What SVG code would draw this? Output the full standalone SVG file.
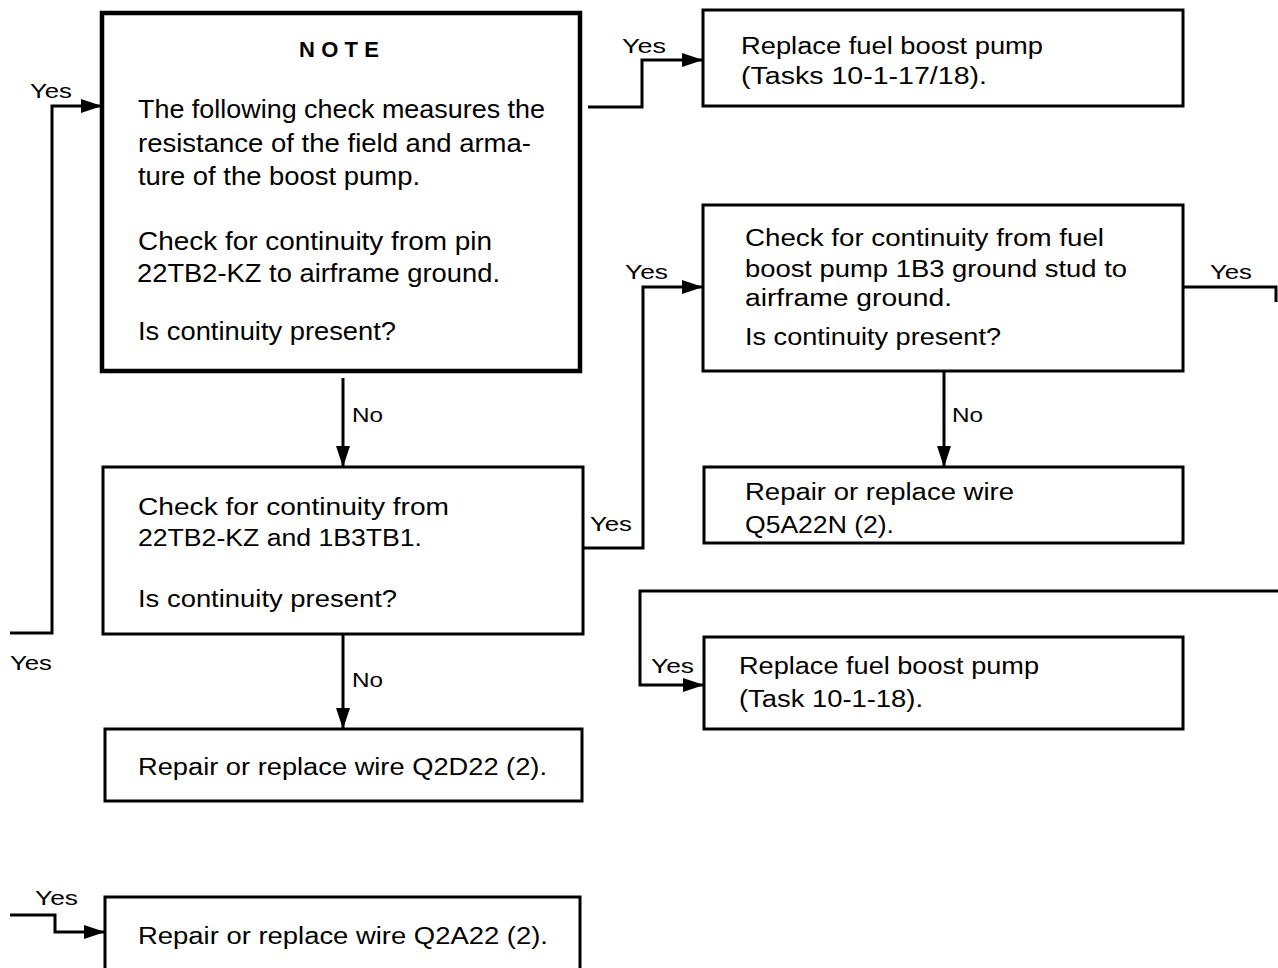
<svg xmlns="http://www.w3.org/2000/svg" width="1278" height="968" viewBox="0 0 1278 968">
<defs>
<marker id="ah" markerUnits="userSpaceOnUse" markerWidth="24" markerHeight="18" refX="21" refY="9" orient="auto">
<path d="M0,2 L21,9 L0,16 z" fill="#000"/>
</marker>
<style>
.box{fill:#fff;stroke:#000;stroke-width:3}
.note{fill:#fff;stroke:#000;stroke-width:4.5}
.t{font-family:"Liberation Sans",Arial,sans-serif;font-size:23px;fill:#000}
.n{font-family:"Liberation Sans",Arial,sans-serif;font-size:26px;fill:#000}
.lbl{font-family:"Liberation Sans",Arial,sans-serif;font-size:21px;fill:#000}
.c{fill:none;stroke:#000;stroke-width:3}
</style>
</defs>
<rect width="1278" height="968" fill="#fff"/>
<g id="connectors">
<path class="c" d="M10,633 H52 V106 H102" marker-end="url(#ah)"/>
<path class="c" d="M588,107 H642 V60 H703" marker-end="url(#ah)"/>
<path class="c" d="M343,378 V467" marker-end="url(#ah)"/>
<path class="c" d="M583,548 H643 V287 H703" marker-end="url(#ah)"/>
<path class="c" d="M343,635 V729" marker-end="url(#ah)"/>
<path class="c" d="M1183,287 H1276 V302"/>
<path class="c" d="M944,372 V467" marker-end="url(#ah)"/>
<path class="c" d="M1278,591 H640 V685 H704" marker-end="url(#ah)"/>
<path class="c" d="M10,915 H55 V932 H105" marker-end="url(#ah)"/>
<text class="lbl" x="30" y="98" textLength="42" lengthAdjust="spacingAndGlyphs">Yes</text>
<text class="lbl" x="10" y="670" textLength="42" lengthAdjust="spacingAndGlyphs">Yes</text>
<text class="lbl" x="622" y="53" textLength="44" lengthAdjust="spacingAndGlyphs">Yes</text>
<text class="lbl" x="625" y="279" textLength="43" lengthAdjust="spacingAndGlyphs">Yes</text>
<text class="lbl" x="1210" y="279" textLength="42" lengthAdjust="spacingAndGlyphs">Yes</text>
<text class="lbl" x="590" y="531" textLength="42" lengthAdjust="spacingAndGlyphs">Yes</text>
<text class="lbl" x="651" y="673" textLength="43" lengthAdjust="spacingAndGlyphs">Yes</text>
<text class="lbl" x="35" y="905" textLength="43" lengthAdjust="spacingAndGlyphs">Yes</text>
<text class="lbl" x="352" y="422" textLength="31" lengthAdjust="spacingAndGlyphs">No</text>
<text class="lbl" x="952" y="422" textLength="31" lengthAdjust="spacingAndGlyphs">No</text>
<text class="lbl" x="352" y="687" textLength="31" lengthAdjust="spacingAndGlyphs">No</text>
</g>
<g id="note">
<rect class="note" x="102" y="13" width="478" height="358"/>
<text x="339" y="57" text-anchor="middle" font-family="Liberation Sans,Arial,sans-serif" font-size="22" font-weight="bold" textLength="80" lengthAdjust="spacing">NOTE</text>
<text class="n" x="138" y="118" textLength="407" lengthAdjust="spacingAndGlyphs">The following check measures the</text>
<text class="n" x="138" y="152" textLength="393" lengthAdjust="spacingAndGlyphs">resistance of the field and arma-</text>
<text class="n" x="138" y="185" textLength="282" lengthAdjust="spacingAndGlyphs">ture of the boost pump.</text>
<text class="n" x="138" y="250" textLength="354" lengthAdjust="spacingAndGlyphs">Check for continuity from pin</text>
<text class="n" x="137" y="282" textLength="363" lengthAdjust="spacingAndGlyphs">22TB2-KZ to airframe ground.</text>
<text class="n" x="138" y="340" textLength="258" lengthAdjust="spacingAndGlyphs">Is continuity present?</text>
</g>
<g id="replace1">
<rect class="box" x="703" y="10" width="480" height="96"/>
<text class="t" x="741" y="54" textLength="302" lengthAdjust="spacingAndGlyphs">Replace fuel boost pump</text>
<text class="t" x="741" y="84" textLength="246" lengthAdjust="spacingAndGlyphs">(Tasks 10-1-17/18).</text>
</g>
<g id="check2">
<rect class="box" x="703" y="205" width="480" height="166"/>
<text class="t" x="745" y="246" textLength="359" lengthAdjust="spacingAndGlyphs">Check for continuity from fuel</text>
<text class="t" x="745" y="277" textLength="382" lengthAdjust="spacingAndGlyphs">boost pump 1B3 ground stud to</text>
<text class="t" x="745" y="306" textLength="207" lengthAdjust="spacingAndGlyphs">airframe ground.</text>
<text class="t" x="745" y="345" textLength="256" lengthAdjust="spacingAndGlyphs">Is continuity present?</text>
</g>
<g id="check1">
<rect class="box" x="103" y="467" width="480" height="167"/>
<text class="t" x="138" y="515" textLength="311" lengthAdjust="spacingAndGlyphs">Check for continuity from</text>
<text class="t" x="138" y="546" textLength="284" lengthAdjust="spacingAndGlyphs">22TB2-KZ and 1B3TB1.</text>
<text class="t" x="138" y="607" textLength="259" lengthAdjust="spacingAndGlyphs">Is continuity present?</text>
</g>
<g id="repairQ5A22N">
<rect class="box" x="704" y="467" width="479" height="76"/>
<text class="t" x="745" y="500" textLength="269" lengthAdjust="spacingAndGlyphs">Repair or replace wire</text>
<text class="t" x="745" y="533" textLength="149" lengthAdjust="spacingAndGlyphs">Q5A22N (2).</text>
</g>
<g id="replace2">
<rect class="box" x="704" y="637" width="479" height="92"/>
<text class="t" x="739" y="674" textLength="300" lengthAdjust="spacingAndGlyphs">Replace fuel boost pump</text>
<text class="t" x="739" y="707" textLength="184" lengthAdjust="spacingAndGlyphs">(Task 10-1-18).</text>
</g>
<g id="repairQ2D22">
<rect class="box" x="105" y="729" width="477" height="72"/>
<text class="t" x="138" y="775" textLength="409" lengthAdjust="spacingAndGlyphs">Repair or replace wire Q2D22 (2).</text>
</g>
<g id="repairQ2A22">
<rect class="box" x="105" y="897" width="475" height="90"/>
<text class="t" x="138" y="944" textLength="410" lengthAdjust="spacingAndGlyphs">Repair or replace wire Q2A22 (2).</text>
</g>
</svg>
